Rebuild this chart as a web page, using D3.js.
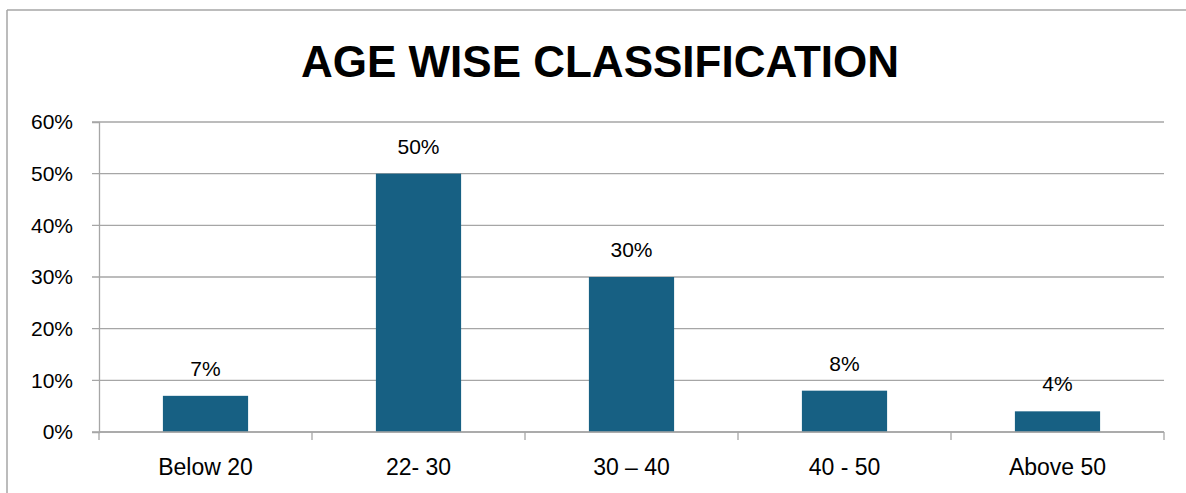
<!DOCTYPE html>
<html>
<head>
<meta charset="utf-8">
<script src="https://cdn.jsdelivr.net/npm/d3@7"></script>
<style>
  body { margin: 0; background: #fff; }
  svg { display: block; font-family: "Liberation Sans", Arial, sans-serif; }
</style>
</head>
<body>
<div id="chart"></div>
<script>
// chart data
let categories = ['Below 20', '22- 30', '30 \u2013 40', '40 - 50', 'Above 50'];
let values = [0.07, 0.50, 0.30, 0.08, 0.04];
let yTicks = [0, 0.1, 0.2, 0.3, 0.4, 0.5, 0.6];
let title = 'AGE WISE CLASSIFICATION';

let w = 1186;
let h = 493;
let margin = {left: 99, right: 22, top: 122, bottom: 61};

let svg = d3.select('#chart')
  .append('svg')
  .attr('width', w)
  .attr('height', h);

// outer frame (left and top edges visible)
svg.append('line')
  .attr('x1', 7).attr('x2', 7).attr('y1', 10).attr('y2', h)
  .attr('stroke', '#a6a6a6').attr('stroke-width', 1.5);
svg.append('line')
  .attr('x1', 7).attr('x2', w).attr('y1', 10).attr('y2', 10)
  .attr('stroke', '#a6a6a6').attr('stroke-width', 1.5);

svg.append('text')
  .attr('x', 600)
  .attr('y', 77)
  .attr('text-anchor', 'middle')
  .attr('font-size', 44)
  .attr('font-weight', 'bold')
  .attr('fill', '#000')
  .text(title);

let x = d3.scaleBand()
  .domain(categories)
  .range([margin.left, w - margin.right])
  .paddingInner(0.6)
  .paddingOuter(0.3);

let xCat = d3.scaleBand()
  .domain(categories)
  .range([margin.left, w - margin.right]);

let y = d3.scaleLinear()
  .domain([0, 0.6])
  .range([h - margin.bottom, margin.top]);

// gridlines
svg.append('g')
  .selectAll('line')
  .data(yTicks)
  .enter()
  .append('line')
  .attr('x1', margin.left - 7)
  .attr('x2', w - margin.right)
  .attr('y1', d => y(d))
  .attr('y2', d => y(d))
  .attr('stroke', '#a6a6a6')
  .attr('stroke-width', 1.3);

// y axis labels
let yAxis = svg.append('g')
  .attr('transform', 'translate(' + margin.left + ',0)')
  .call(d3.axisLeft(y).tickValues(yTicks).tickFormat(d3.format('.0%')).tickSize(7).tickPadding(19));
yAxis.select('.domain').attr('stroke', '#a6a6a6').attr('stroke-width', 1.3);
yAxis.selectAll('.tick line').remove();
yAxis.selectAll('text').attr('font-size', 21).attr('fill', '#000')
  .attr('font-family', '"Liberation Sans", Arial, sans-serif');

// bars
svg.selectAll('rect.bar')
  .data(values)
  .enter()
  .append('rect')
  .attr('class', 'bar')
  .attr('x', (d, i) => x(categories[i]))
  .attr('y', d => y(d))
  .attr('width', x.bandwidth())
  .attr('height', d => y(0) - y(d))
  .attr('fill', '#176083');

// x axis
let xAxisG = svg.append('g')
  .attr('transform', 'translate(0,' + y(0) + ')');
xAxisG.append('line')
  .attr('x1', margin.left).attr('x2', w - margin.right)
  .attr('stroke', '#a6a6a6').attr('stroke-width', 1.3);
let bounds = categories.map(c => xCat(c)).concat([w - margin.right]);
xAxisG.selectAll('line.tk')
  .data(bounds)
  .enter()
  .append('line')
  .attr('class', 'tk')
  .attr('x1', d => d).attr('x2', d => d)
  .attr('y1', 0).attr('y2', 8)
  .attr('stroke', '#a6a6a6').attr('stroke-width', 1.3);
xAxisG.selectAll('text')
  .data(categories)
  .enter()
  .append('text')
  .attr('x', d => xCat(d) + xCat.bandwidth() / 2)
  .attr('y', 43)
  .attr('text-anchor', 'middle')
  .attr('font-size', 23)
  .attr('fill', '#000')
  .text(d => d);

// data labels
svg.selectAll('text.lbl')
  .data(values)
  .enter()
  .append('text')
  .attr('class', 'lbl')
  .attr('x', (d, i) => x(categories[i]) + x.bandwidth() / 2)
  .attr('y', d => y(d) - 20)
  .attr('text-anchor', 'middle')
  .attr('font-size', 21)
  .attr('fill', '#000')
  .text(d => d3.format('.0%')(d));
</script>
</body>
</html>
